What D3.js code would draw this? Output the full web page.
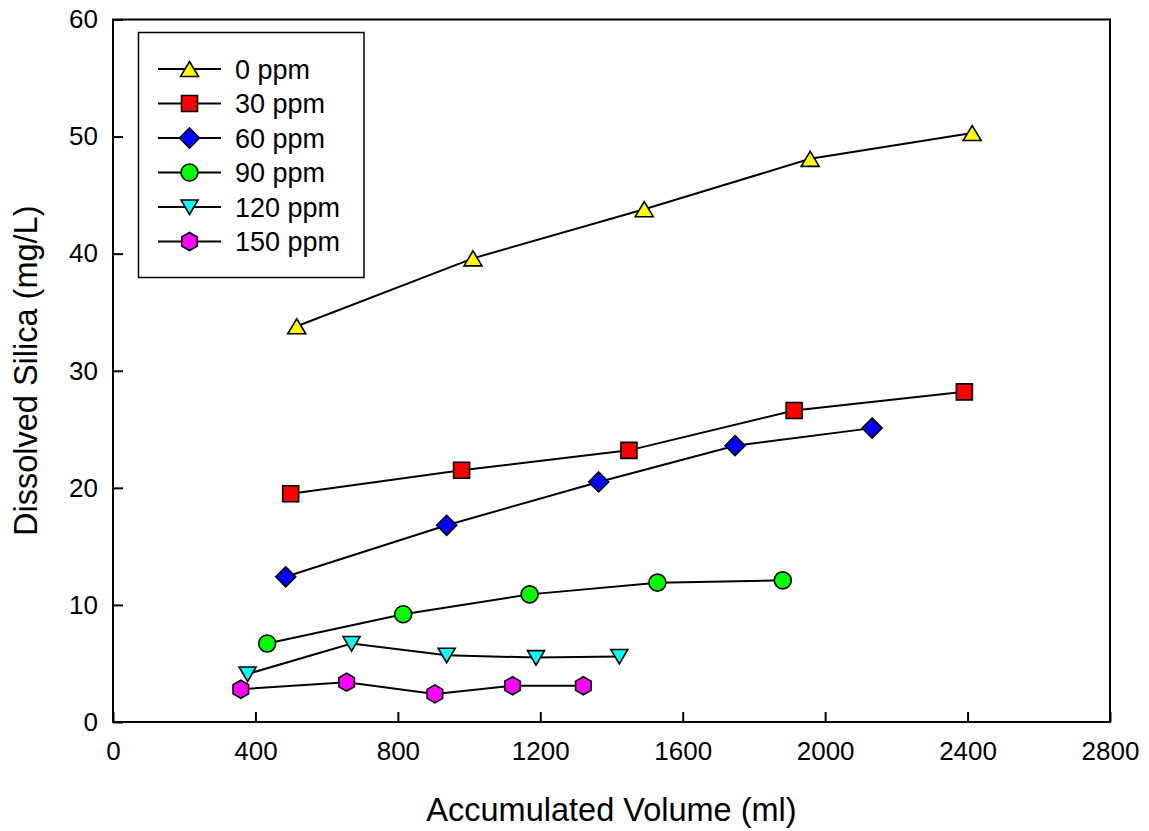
<!DOCTYPE html>
<html>
<head>
<meta charset="utf-8">
<script src="https://cdn.jsdelivr.net/npm/d3@7"></script>
<style>
  body { margin: 0; background: #fff; }
  svg { display: block; font-family: "Liberation Sans", Arial, sans-serif; }
</style>
</head>
<body>
<div id="grafico"></div>
<script>
// valores
const series = ["0 ppm", "30 ppm", "60 ppm", "90 ppm", "120 ppm", "150 ppm"];
const cores = ["#ffff00", "#ff0000", "#0000ff", "#00ff00", "#00ffff", "#ff00ff"];
const formas = ["triUp", "square", "diamond", "circle", "triDown", "hexagon"];

const vol0 = [516, 1011, 1492, 1958, 2413];
const si0 = [33.8, 39.6, 43.8, 48.1, 50.3];
const vol30 = [499, 979, 1449, 1913, 2391];
const si30 = [19.5, 21.5, 23.2, 26.6, 28.2];
const vol60 = [485, 937, 1364, 1747, 2132];
const si60 = [12.4, 16.8, 20.5, 23.6, 25.1];
const vol90 = [433, 815, 1170, 1529, 1881];
const si90 = [6.7, 9.2, 10.9, 11.9, 12.1];
const vol120 = [378, 670, 937, 1188, 1422];
const si120 = [4.1, 6.7, 5.7, 5.5, 5.6];
const vol150 = [359, 656, 904, 1122, 1321];
const si150 = [2.8, 3.4, 2.4, 3.1, 3.1];

const xTicks = [0, 400, 800, 1200, 1600, 2000, 2400, 2800];
const yTicks = [0, 10, 20, 30, 40, 50, 60];

const vols = [vol0, vol30, vol60, vol90, vol120, vol150];
const sis = [si0, si30, si60, si90, si120, si150];
const dados = series.map((nome, i) => ({
    nome: nome,
    cor: cores[i],
    forma: formas[i],
    pontos: vols[i].map((v, j) => ({ x: v, y: sis[i][j] }))
}));

const largura = 1149, altura = 831;
const esq = 113, dir = 1110, topo = 19.5, base = 722;

const svg = d3.select("#grafico").append("svg")
    .attr("width", largura)
    .attr("height", altura);

const x = d3.scaleLinear().domain([0, 2800]).range([esq, dir]);
const y = d3.scaleLinear().domain([0, 60]).range([base, topo]);

// desenha o marcador de cada serie
function marcador(forma) {
    switch (forma) {
        case "triUp": return "M0,-7.5L9,7.5L-9,7.5Z";
        case "triDown": return "M0,7.5L8.5,-7L-8.5,-7Z";
        case "square": return "M-8,-8H8V8H-8Z";
        case "diamond": return "M0,-10L10,0L0,10L-10,0Z";
        case "circle": return "M8.5,0A8.5,8.5 0 1 1 -8.5,0A8.5,8.5 0 1 1 8.5,0Z";
        case "hexagon": {
            const pts = d3.range(6).map(k => {
                const a = (-90 + 60 * k) * Math.PI / 180;
                return [9 * Math.cos(a), 9 * Math.sin(a)];
            });
            return "M" + pts.join("L") + "Z";
        }
    }
}

// eixos
const eixoX = d3.axisBottom(x).tickValues(xTicks).tickFormat(d3.format("d"))
    .tickSizeInner(-10).tickSizeOuter(0);
const eixoY = d3.axisLeft(y).tickValues(yTicks).tickFormat(d3.format("d"))
    .tickSizeInner(-10).tickSizeOuter(0);

const gx = svg.append("g").attr("transform", `translate(0,${base})`).call(eixoX);
gx.selectAll("text").attr("y", 38).attr("dy", null);
const gy = svg.append("g").attr("transform", `translate(${esq},0)`).call(eixoY);
gy.selectAll("text").attr("x", -15);

[gx, gy].forEach(g => {
    g.select(".domain").remove();
    g.selectAll("line").attr("stroke", "#000").attr("stroke-width", 2);
    g.selectAll("text")
        .attr("fill", "#000")
        .style("font-size", "26px")
        .style("font-family", "'Liberation Sans', Arial, sans-serif");
});

// moldura
svg.append("rect")
    .attr("x", esq).attr("y", topo)
    .attr("width", dir - esq).attr("height", base - topo)
    .attr("fill", "none").attr("stroke", "#000").attr("stroke-width", 2);

// linhas
const linha = d3.line().x(d => x(d.x)).y(d => y(d.y));
svg.selectAll(".serie")
    .data(dados)
    .enter()
    .append("path")
    .attr("class", "serie")
    .attr("d", d => linha(d.pontos))
    .attr("fill", "none")
    .attr("stroke", "#000")
    .attr("stroke-width", 2);

// marcadores
dados.forEach(s => {
    svg.selectAll(null)
        .data(s.pontos)
        .enter()
        .append("path")
        .attr("d", marcador(s.forma))
        .attr("transform", d => `translate(${x(d.x)},${y(d.y)})`)
        .attr("fill", s.cor)
        .attr("stroke", "#000")
        .attr("stroke-width", 1.6);
});

// titulos dos eixos
svg.append("text")
    .attr("x", (esq + dir) / 2)
    .attr("y", 821)
    .attr("text-anchor", "middle")
    .style("font-size", "32.5px")
    .text("Accumulated Volume (ml)");

svg.append("text")
    .attr("transform", `translate(37,${(topo + base) / 2}) rotate(-90)`)
    .attr("text-anchor", "middle")
    .style("font-size", "32.5px")
    .text("Dissolved Silica (mg/L)");

// legenda
svg.append("rect")
    .attr("x", 138.5).attr("y", 32.5)
    .attr("width", 225.5).attr("height", 245)
    .attr("fill", "#fff").attr("stroke", "#000").attr("stroke-width", 1.5);

const leg = svg.selectAll(".leg")
    .data(dados)
    .enter()
    .append("g")
    .attr("class", "leg")
    .attr("transform", (d, i) => `translate(0,${69 + i * 34.5})`);

leg.append("line")
    .attr("x1", 158).attr("x2", 221)
    .attr("stroke", "#000").attr("stroke-width", 2);
leg.append("path")
    .attr("d", d => marcador(d.forma))
    .attr("transform", "translate(189.5,0)")
    .attr("fill", d => d.cor)
    .attr("stroke", "#000")
    .attr("stroke-width", 1.6);
leg.append("text")
    .attr("x", 235)
    .attr("y", 9.5)
    .style("font-size", "27px")
    .text(d => d.nome);
</script>
</body>
</html>
